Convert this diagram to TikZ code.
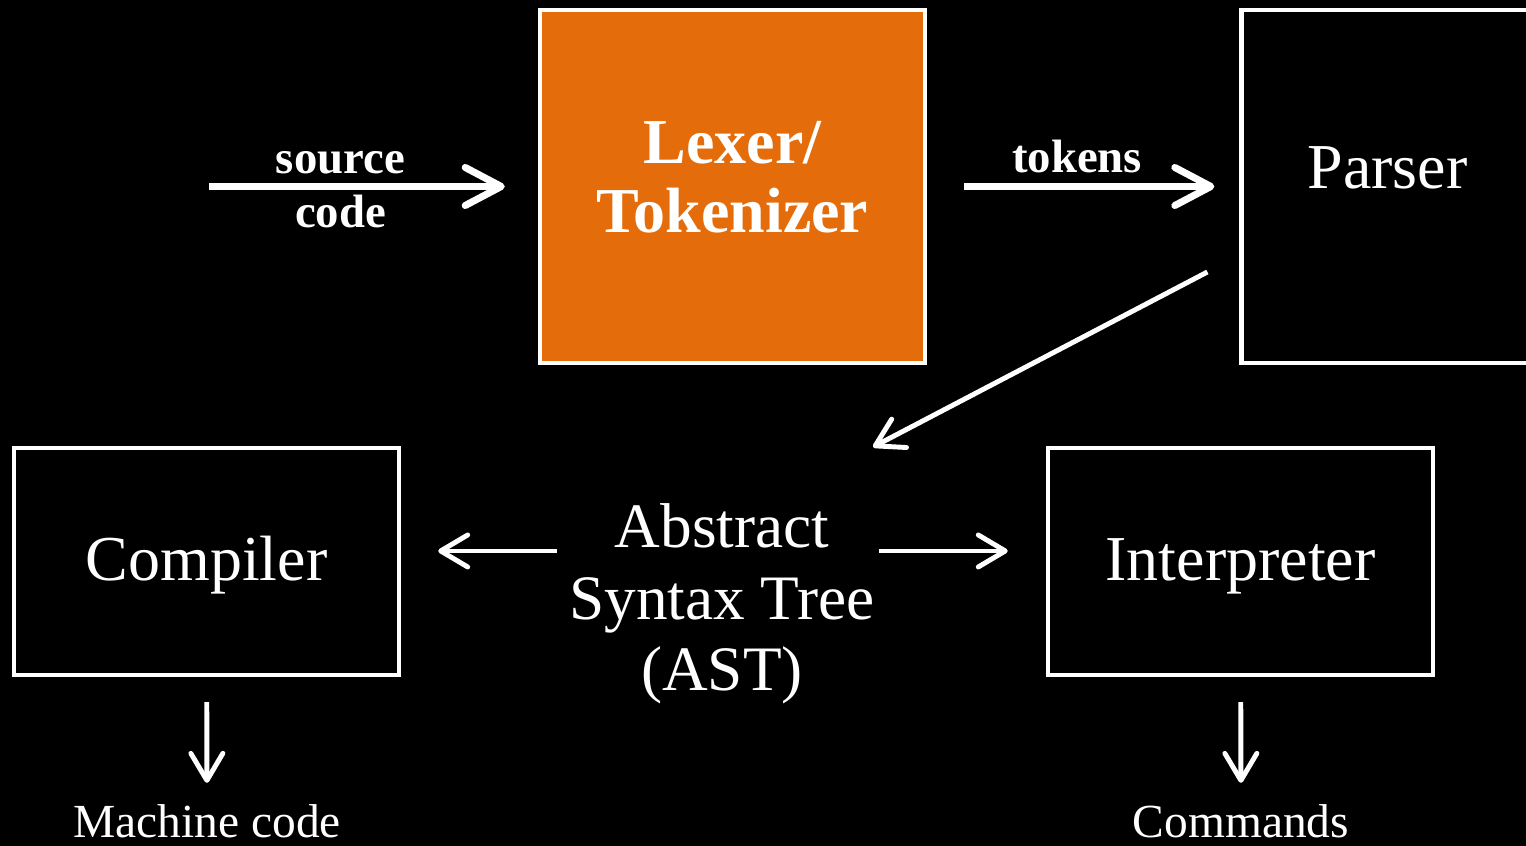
\documentclass[tikz,border=0pt]{standalone}
\usepackage{fontspec}
\setmainfont{Liberation Serif}
\usetikzlibrary{arrows.meta, positioning}
\definecolor{lexorange}{RGB}{228,108,10}
\tikzset{
stagebox/.style={rectangle, draw=white, line width=1.2pt, text=white,
minimum width=3.85cm, minimum height=2.27cm, align=center,
font=\fontsize{18.2}{20.4}\selectfont},
plaintext/.style={text=white, align=center, inner sep=0pt},
bigarrow/.style={draw=white, line width=2pt, -{Straight Barb[round, length=3.6mm, width=3.8mm]}},
thinarrow/.style={draw=white, line width=1.4pt, -{Straight Barb[round, length=2.7mm, width=3.2mm]}}
}

\begin{document}
\begin{tikzpicture}[x=0.01cm, y=-0.01cm]
		\useasboundingbox (0,0) rectangle (1526,846);
		\fill[black] (0,0) rectangle (1526,846);
		\clip (0,0) rectangle (1526,846);
		
		\node (lexer) [stagebox, fill=lexorange, minimum height=3.53cm, text depth=5.5pt,
		font=\fontsize{18.2}{19.8}\selectfont\bfseries] at (732.5,186.5) {Lexer/\\Tokenizer};
		\node (parser) [stagebox, minimum width=2.92cm, minimum height=3.53cm, text depth=11pt, right=3.12cm of lexer] {Parser};
		\node (compiler) [stagebox, text height=14.6pt] at (206.5,561.5) {Compiler};
		\node (interp) [stagebox, text height=14.6pt] at (1240.5,561.5) {Interpreter};
		\node (ast) [plaintext, font=\fontsize{18}{20.4}\selectfont] at (722,604) {Abstract\\Syntax Tree\\(AST)};
		\node (mcode) [plaintext, anchor=base, font=\fontsize{13.5}{15}\selectfont] at (207,838) {Machine code};
		\node (cmds) [plaintext, anchor=base, font=\fontsize{13.5}{15}\selectfont] at (1241,838) {Commands};
		
		\coordinate (src) at (209,186.5);
		\draw [bigarrow, shorten >=0.33cm] (src) -- node [pos=0.40, yshift=-0.9pt, text=white, align=center,
		font=\fontsize{13.3}{15.6}\selectfont\bfseries] {source\\code} (lexer);
		\draw [bigarrow, shorten <=0.37cm, shorten >=0.25cm] (lexer) -- node [pos=0.48, above=-0.4pt, text=white,
		font=\fontsize{13.3}{15.6}\selectfont\bfseries] {tokens} (parser);
		\draw [thinarrow] ([shift={(-32,85.5)}]parser.west) -- ([shift={(151,-157)}]ast.center);
		
		\coordinate (astl) at ([yshift=5.3mm]ast.west);
		\coordinate (astr) at ([yshift=5.3mm]ast.east);
		\draw [thinarrow, shorten <=0.12cm, shorten >=0.37cm] (astl) -- (astl -| compiler.east);
		\draw [thinarrow, shorten <=0.04cm, shorten >=0.38cm] (astr) -- (astr -| interp.west);
		
		\draw [thinarrow, shorten <=0.25cm, shorten >=0.215cm] (compiler) -- (mcode);
		\draw [thinarrow, shorten <=0.25cm, shorten >=0.215cm] (interp) -- (cmds);
	\end{tikzpicture}
\end{document}
